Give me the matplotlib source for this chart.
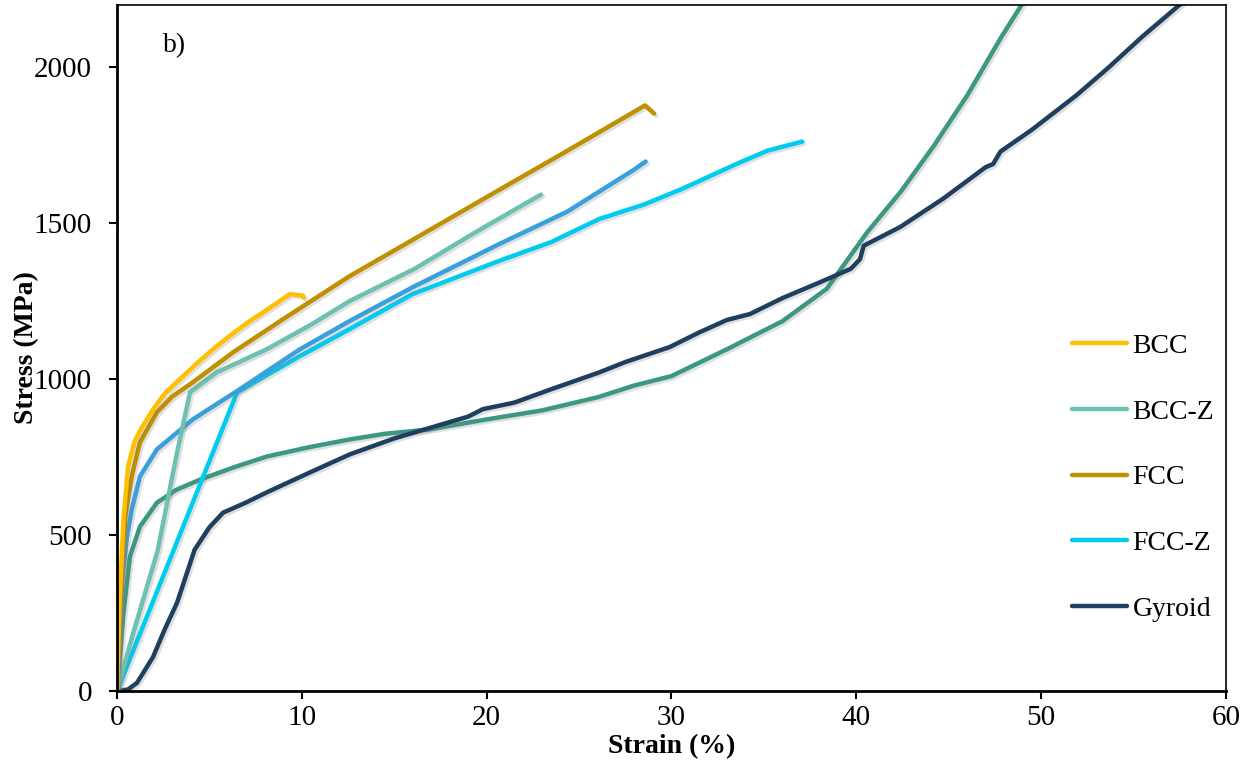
import matplotlib
matplotlib.use("Agg")
import matplotlib.pyplot as plt
import matplotlib.patheffects as pe

# strain (%) / stress (MPa)
bcc_x = [0, 0.15, 0.35, 0.6, 0.95, 1.3, 1.95, 2.6, 3.4, 4.4, 5.4, 6.3, 7.2, 8.3, 9.36, 10.06, 10.1]
bcc_y = [0, 300, 550, 720, 800, 840, 903, 955, 1000, 1055, 1106, 1148, 1187, 1230, 1273, 1268, 1262]

bccz_x = [0, 0.9, 2.2, 3.2, 3.95, 5.4, 8.1, 10.5, 12.6, 16.1, 19.5, 22.94]
bccz_y = [0, 190, 450, 750, 958, 1022, 1096, 1175, 1251, 1354, 1475, 1592]

fcc_x = [0, 0.2, 0.45, 0.8, 1.24, 2.16, 3.0, 4.1, 6.3, 9.0, 12.6, 16.0, 20.0, 24.0, 28.57, 29.06]
fcc_y = [0, 300, 560, 688, 797, 894, 945, 990, 1087, 1193, 1331, 1447, 1584, 1720, 1878, 1852]

blue_x = [0, 0.27, 0.54, 0.8, 1.24, 2.16, 4.1, 6.65, 9.9, 12.6, 16.0, 20.7, 24.35, 27.9, 28.6]
blue_y = [0, 347, 495, 582, 688, 775, 871, 968, 1096, 1187, 1295, 1434, 1537, 1669, 1698]

fccz_x = [0, 6.5, 9.9, 12.6, 16.0, 20.7, 23.5, 26.1, 28.5, 30.6, 33.5, 35.2, 37.07]
fccz_y = [0, 958, 1074, 1161, 1273, 1380, 1440, 1514, 1560, 1611, 1690, 1733, 1762]

teal_x = [0, 0.35, 0.7, 1.24, 2.16, 3.2, 4.5, 6.3, 8.1, 10.4, 12.6, 14.5, 16.9, 20.0, 23.0, 26.0, 28.0,
          30.0, 33.0, 36.0, 38.4, 40.6, 42.4, 44.2, 46.0, 47.8, 49.0]
teal_y = [0, 250, 431, 527, 604, 645, 678, 717, 752, 782, 807, 825, 839, 871, 900, 942, 980,
          1010, 1096, 1186, 1290, 1472, 1601, 1749, 1910, 2093, 2206]

gyr_x = [0, 0.6, 1.08, 1.95, 2.6, 3.25, 4.2, 5.0, 5.74, 7.0, 8.1, 10.4, 12.6, 15.0, 17.0, 19.0, 19.8,
         21.5, 23.5, 26.1, 27.5, 29.9, 31.5, 33.0, 34.25, 36.0, 38.0, 39.7, 40.2, 40.4, 42.4, 44.7,
         47.0, 47.4, 47.8, 49.5, 51.9, 53.6, 55.5, 57.6]
gyr_y = [0, 5, 26, 109, 200, 283, 453, 525, 572, 605, 637, 700, 759, 810, 845, 880, 904,
         925, 968, 1022, 1055, 1103, 1150, 1190, 1209, 1260, 1310, 1354, 1385, 1428, 1489, 1579,
         1680, 1690, 1730, 1800, 1910, 1997, 2100, 2206]

plt.rcParams['font.family'] = ['Liberation Serif', 'DejaVu Serif']

fig = plt.figure(figsize=(12.51, 7.69), dpi=100)
ax = fig.add_axes([0.0935, 0.1014, 0.8865, 0.8921])

shadow = [pe.SimpleLineShadow(offset=(1.5, -1.5), alpha=0.25, shadow_color='gray'), pe.Normal()]
kw = dict(lw=3.2, solid_capstyle='round', solid_joinstyle='round', path_effects=shadow)

ax.plot(teal_x, teal_y, color='#3C9882', **kw)
ax.plot(gyr_x, gyr_y, color='#1F3F60', label='Gyroid', **kw)
ax.plot(fccz_x, fccz_y, color='#00CCF0', label='FCC-Z', **kw)
ax.plot(blue_x, blue_y, color='#3A9FDD', **kw)
ax.plot(bccz_x, bccz_y, color='#6CC1B0', label='BCC-Z', **kw)
ax.plot(fcc_x, fcc_y, color='#BF9000', label='FCC', **kw)
ax.plot(bcc_x, bcc_y, color='#FFC000', label='BCC', **kw)

ax.set_xlim(0, 60)
ax.set_ylim(0, 2200)
ax.set_xticks(range(0, 61, 10))
ax.set_yticks(range(0, 2001, 500))
ax.tick_params(labelsize=21, direction='out', length=6, width=1.5)
ax.tick_params(axis='y', pad=12)
ax.tick_params(axis='x', pad=4)
for s in ['left', 'bottom']:
    ax.spines[s].set_linewidth(2)
for s in ['top', 'right']:
    ax.spines[s].set_linewidth(1.2)

ax.set_xlabel('Strain (%)', fontsize=20, fontweight='bold', labelpad=2)
ax.set_ylabel('Stress (MPa)', fontsize=20, fontweight='bold', labelpad=-4)
ax.text(2.5, 2050, 'b)', fontsize=20)

handles, labels = ax.get_legend_handles_labels()
order = ['BCC', 'BCC-Z', 'FCC', 'FCC-Z', 'Gyroid']
hmap = dict(zip(labels, handles))
leg = ax.legend([hmap[k] for k in order], order, loc='center right', bbox_to_anchor=(1.012, 0.311),
                frameon=False, fontsize=20, handlelength=2.0, handletextpad=0.2, labelspacing=1.45)
for h in leg.get_lines():
    h.set_path_effects([])

fig.savefig('out.png', dpi=100)
